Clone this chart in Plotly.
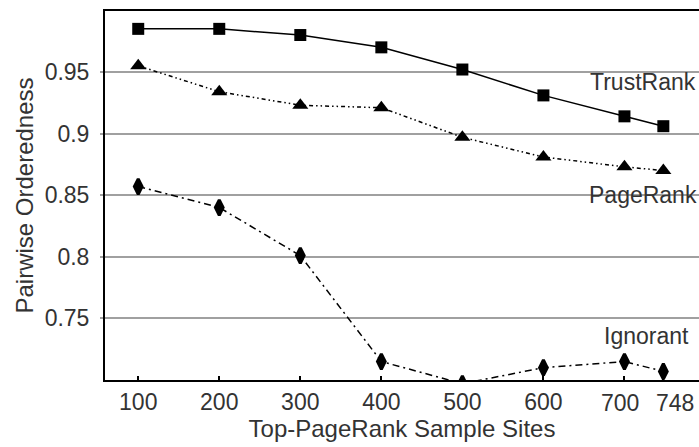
import plotly.graph_objects as go

sample_sites = [100, 200, 300, 400, 500, 600, 700, 748]
trustrank = [0.985, 0.985, 0.980, 0.970, 0.952, 0.931, 0.914, 0.906]
pagerank = [0.955, 0.934, 0.923, 0.921, 0.897, 0.881, 0.873, 0.870]
ignorant = [0.857, 0.840, 0.801, 0.715, 0.697, 0.710, 0.715, 0.707]
x_ticks = [100, 200, 300, 400, 500, 600, 700, 748]
x_tick_text = ["100", "200", "300", "400", "500", "600", "700", "748"]
y_ticks = [0.75, 0.8, 0.85, 0.9, 0.95]
y_tick_text = ["0.75", "0.8", "0.85", "0.9", "0.95"]

FONT = "Liberation Sans, Arial, sans-serif"
TXT = "#333333"

fig = go.Figure()
fig.add_trace(go.Scatter(
    x=sample_sites, y=trustrank, mode="lines+markers", name="TrustRank",
    line=dict(color="black", width=1.5),
    marker=dict(symbol="square", size=12, color="black"),
))
fig.add_trace(go.Scatter(
    x=sample_sites, y=pagerank, mode="lines+markers", name="PageRank",
    line=dict(color="black", width=1.5, dash="4px,3px,1.5px,3px,1.5px,3px"),
    marker=dict(symbol="triangle-up", size=14, color="black"),
))
fig.add_trace(go.Scatter(
    x=sample_sites, y=ignorant, mode="lines+markers", name="Ignorant",
    line=dict(color="black", width=1.5, dash="7px,4px,2px,4px"),
    marker=dict(symbol="diamond-tall", size=11, color="black",
                line=dict(color="black", width=3)),
))

# series labels
fig.add_annotation(x=655, y=0.942, text="TrustRank", showarrow=False,
                   xanchor="left", yanchor="middle", font=dict(family=FONT, size=23, color=TXT))
fig.add_annotation(x=654, y=0.850, text="PageRank", showarrow=False,
                   xanchor="left", yanchor="middle", font=dict(family=FONT, size=23, color=TXT))
fig.add_annotation(x=782, y=0.7357, text="Ignorant", showarrow=False,
                   xanchor="right", yanchor="middle", font=dict(family=FONT, size=23, color=TXT))

# the last two tick labels are spread apart in the original (they would touch otherwise)
tick_ann_shift = {700: -4, 748: 12}
axis_text = []
for v, t in zip(x_ticks, x_tick_text):
    if v in tick_ann_shift:
        axis_text.append("")
        fig.add_annotation(x=v, y=0, xref="x", yref="paper", text=t, showarrow=False,
                           xanchor="center", yanchor="middle",
                           xshift=tick_ann_shift[v], yshift=-23,
                           font=dict(family=FONT, size=23, color=TXT))
    else:
        axis_text.append(t)

fig.update_layout(
    width=699, height=447,
    margin=dict(l=105, r=0, t=11, b=67),
    plot_bgcolor="white", paper_bgcolor="white",
    showlegend=False,
    font=dict(family=FONT, size=23, color=TXT),
    xaxis=dict(
        range=[59, 792], tickvals=x_ticks, ticktext=axis_text,
        tickangle=0,
        showgrid=False, zeroline=False, automargin=False,
        showline=True, linecolor="black", linewidth=2, mirror=True,
        ticks="inside", ticklen=4, tickcolor="black", tickwidth=1.5,
        tickfont=dict(family=FONT, size=23, color=TXT),
        title=dict(text="Top-PageRank Sample Sites", standoff=4,
                   font=dict(family=FONT, size=24, color=TXT)),
    ),
    yaxis=dict(
        range=[0.7, 0.9995], tickvals=y_ticks, ticktext=y_tick_text,
        showgrid=True, gridcolor="#a0a0a0", gridwidth=1.5, zeroline=False,
        automargin=False,
        showline=True, linecolor="black", linewidth=2,
        ticks="outside", ticklen=3, tickcolor="#a0a0a0", tickwidth=1.5,
        ticklabelstandoff=6,
        tickfont=dict(family=FONT, size=23, color=TXT),
        title=dict(text="Pairwise Orderedness", standoff=4,
                   font=dict(family=FONT, size=24, color=TXT)),
    ),
)

fig.write_html(
    "out.html",
    config={"displayModeBar": False},
    post_script="document.body.style.margin='0';document.body.style.overflow='hidden';",
)
